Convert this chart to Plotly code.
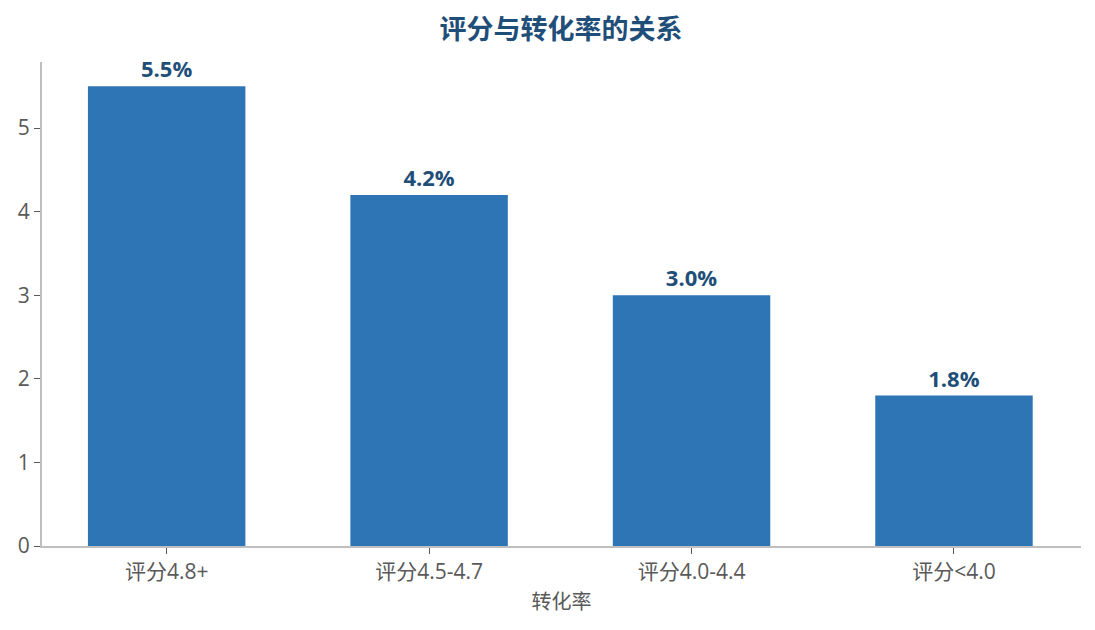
import plotly.graph_objects as go

# 评分区间与对应转化率(%)
categories = ["评分4.8+", "评分4.5-4.7", "评分4.0-4.4", "评分<4.0"]
conversion = [5.5, 4.2, 3.0, 1.8]
y_ticks = [0, 1, 2, 3, 4, 5]

FONT = "Open Sans, Noto Sans CJK SC"
BAR_COLOR = "#2E75B6"
DARK_BLUE = "#1F4E79"
GRAY = "#595959"
AXIS_GRAY = "#BFBFBF"

# page body has an 8px margin, so figure is sized to fit inside the window
W, H = 1079, 614

fig = go.Figure()

fig.add_trace(go.Bar(
    x=categories,
    y=conversion,
    width=0.6,
    marker=dict(color=BAR_COLOR, line=dict(width=0)),
    texttemplate="<b>%{y:.1f}%</b>",
    textposition="outside",
    textfont=dict(family=FONT, size=22, color=DARK_BLUE),
    cliponaxis=False,
    hovertemplate="%{x}<br>转化率: %{y:.1f}%<extra></extra>",
))

fig.update_layout(
    width=W,
    height=H,
    margin=dict(l=34, r=6, t=54, b=76),
    plot_bgcolor="white",
    paper_bgcolor="white",
    showlegend=False,
    font=dict(family=FONT, color=GRAY),
    title=dict(
        text="<b>评分与转化率的关系</b>",
        x=(561 - 8) / W,
        xanchor="center",
        y=1 - 22 / H,
        yanchor="middle",
        font=dict(family="Noto Sans CJK SC", size=27, color=DARK_BLUE),
    ),
)

fig.update_xaxes(
    range=[-0.475, 3.484],
    showline=True,
    linecolor=AXIS_GRAY,
    linewidth=2,
    showgrid=False,
    ticks="outside",
    ticklen=6,
    tickcolor=GRAY,
    tickfont=dict(family=FONT, size=21, color=GRAY),
    title=dict(text="转化率", font=dict(family=FONT, size=20, color=GRAY), standoff=11),
)

fig.update_yaxes(
    range=[0, 5.79],
    tickvals=y_ticks,
    showline=True,
    linecolor=AXIS_GRAY,
    linewidth=2,
    showgrid=False,
    zeroline=False,
    ticks="outside",
    ticklen=6,
    tickcolor=GRAY,
    tickfont=dict(family=FONT, size=21, color=GRAY),
)

fig.write_html("out.html")
